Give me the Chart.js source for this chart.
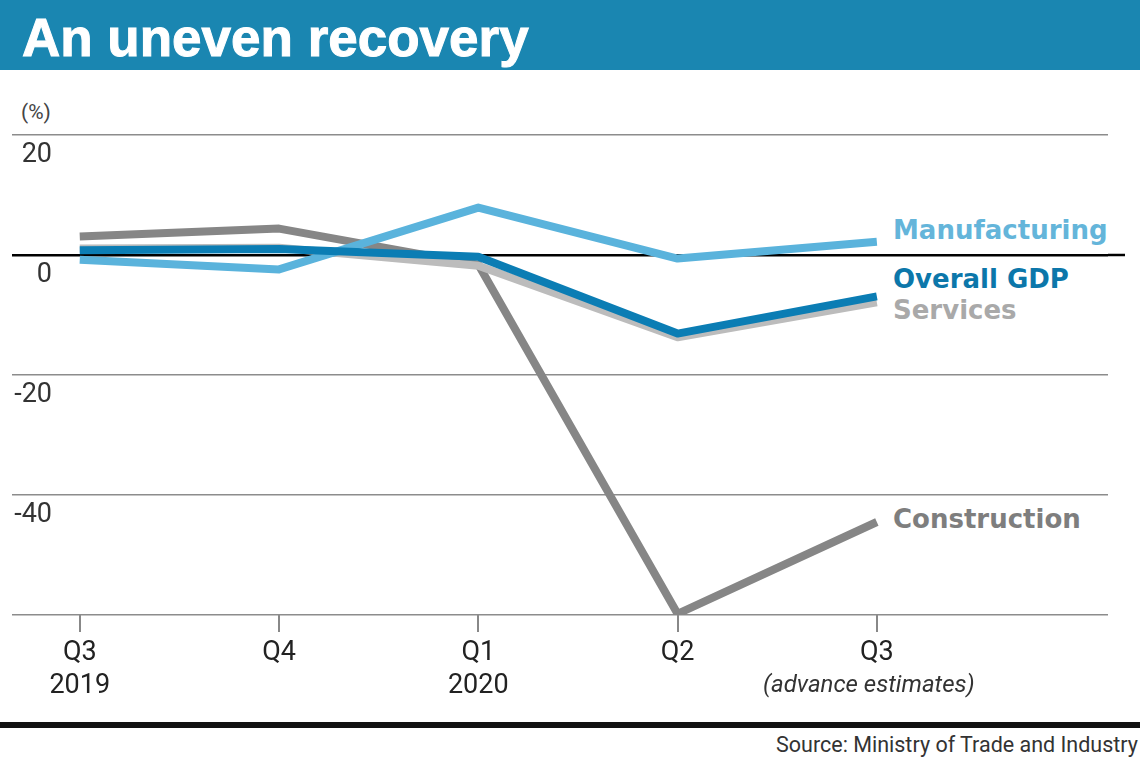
<!DOCTYPE html>
<html>
<head>
<meta charset="utf-8">
<script src="https://cdn.jsdelivr.net/npm/chart.js@4.4.0/dist/chart.umd.min.js"></script>
<style>
  html, body { margin: 0; padding: 0; background: #fff; }
  #wrap { position: relative; width: 1140px; height: 760px; overflow: hidden; font-family: "Liberation Sans", Arial, sans-serif; }
  #bar { position: absolute; left: 0; top: 0; width: 1140px; height: 70px; background: #1a86b1; }
  #title { position: absolute; left: 22px; top: 7px; color: #fff; font-weight: bold; font-size: 53px; letter-spacing: 0px; -webkit-text-stroke: 1px #fff; }
  #unit { position: absolute; left: 21px; top: 100px; font-size: 21px; color: #444; font-family: "Roboto", sans-serif; }
  .lbl { position: absolute; left: 893px; font-weight: bold; font-size: 26px; white-space: nowrap; font-family: "DejaVu Sans", sans-serif; }
  #rule { position: absolute; left: 0; top: 722px; width: 1140px; height: 6px; background: #111; }
  #source { position: absolute; right: 2px; top: 732px; font-size: 21.5px; color: #333; font-family: "Roboto", sans-serif; }
  canvas { position: absolute; left: 0; top: 0; }
</style>
</head>
<body>
<div id="wrap">
  <div id="bar"></div>
  <div id="title">An uneven recovery</div>
  <div id="unit">(%)</div>
  <div class="lbl" style="top:215px;color:#64b5da;">Manufacturing</div>
  <div class="lbl" style="top:264px;color:#0c77aa;">Overall GDP</div>
  <div class="lbl" style="top:295px;color:#a9a9a9;">Services</div>
  <div class="lbl" style="top:504px;color:#7e7e7e;">Construction</div>
  <div id="rule"></div>
  <div id="source">Source: Ministry of Trade and Industry</div>
  <canvas id="graph"></canvas>
</div>
<script>
  const quarters = [['Q3', '2019'], ['Q4'], ['Q1', '2020'], ['Q2'], ['Q3']];
  const gdp = [0.8, 1.0, -0.3, -13.1, -6.9];
  const manufacturing = [-0.8, -2.4, 7.9, -0.6, 2.2];
  const services = [1.1, 1.2, -1.8, -13.7, -7.9];
  const construction = [3.1, 4.4, -1.6, -59.8, -44.5];
  const yTicks = [20, 0, -20, -40];

  const narrow = '"Roboto", sans-serif';

  const points = (arr) => arr.map((y, i) => ({ x: i, y: y }));

  const line = (label, values, color) => ({
    label: label,
    data: points(values),
    borderColor: color,
    borderWidth: 8,
    borderJoinStyle: 'round',
    pointRadius: 0,
    tension: 0,
    fill: false
  });

  const data = {
    datasets: [
      line('Overall GDP', gdp, '#0b7db4'),
      line('Manufacturing', manufacturing, '#5ab3dc'),
      line('Services', services, '#bcbcbc'),
      line('Construction', construction, '#868686')
    ]
  };

  // y labels sit just under their grid line, like the print version
  const extras = {
    id: 'extras',
    beforeDatasetsDraw(chart) {
      const y = chart.scales.y;
      const c = chart.ctx;
      const zy = y.getPixelForValue(0);
      c.save();
      c.strokeStyle = '#000';
      c.lineWidth = 2.5;
      c.beginPath();
      c.moveTo(chart.chartArea.right, zy);
      c.lineTo(1125, zy);
      c.stroke();
      c.restore();
    },
    afterDraw(chart) {
      const y = chart.scales.y;
      const x = chart.scales.x;
      const c = chart.ctx;
      c.save();
      c.fillStyle = '#333';
      c.font = '27px ' + narrow;
      c.textAlign = 'right';
      c.textBaseline = 'middle';
      yTicks.forEach(v => c.fillText(String(v), 52, y.getPixelForValue(v) + 20));
      c.font = 'italic 24px ' + narrow;
      c.textAlign = 'center';
      c.fillText('(advance estimates)', x.getPixelForValue(4) - 8, 686);
      c.restore();
    }
  };

  const config = {
    type: 'line',
    data: data,
    options: {
      responsive: false,
      animation: false,
      layout: { padding: { top: 135, left: 12, right: 32, bottom: 45 } },
      plugins: {
        legend: { display: false },
        tooltip: { enabled: false }
      },
      scales: {
        x: {
          type: 'linear',
          min: -0.34,
          max: 5.16,
          afterBuildTicks: (scale) => {
            scale.ticks = quarters.map((_, i) => ({ value: i }));
          },
          afterFit: (scale) => { scale.height = 100; },
          border: { display: false },
          grid: { drawOnChartArea: false, drawTicks: true, tickLength: 17, color: '#888', lineWidth: 2 },
          ticks: {
            autoSkip: false,
            maxRotation: 0,
            padding: 4,
            color: '#222',
            font: { family: narrow, size: 27, lineHeight: 1.25 },
            callback: (v) => quarters[v]
          }
        },
        y: {
          min: -60,
          max: 20,
          afterFit: (scale) => { scale.width = 0; },
          border: { display: false },
          grid: {
            drawTicks: false,
            color: (ctx) => ctx.tick && ctx.tick.value === 0 ? '#000' : '#8c8c8c',
            lineWidth: (ctx) => ctx.tick && ctx.tick.value === 0 ? 2.5 : 1.5
          },
          ticks: { stepSize: 20, display: false }
        }
      }
    },
    plugins: [extras]
  };

  const canvas = document.getElementById('graph');
  canvas.width = 1140;
  canvas.height = 760;
  new Chart(canvas.getContext('2d'), config);
</script>
</body>
</html>
